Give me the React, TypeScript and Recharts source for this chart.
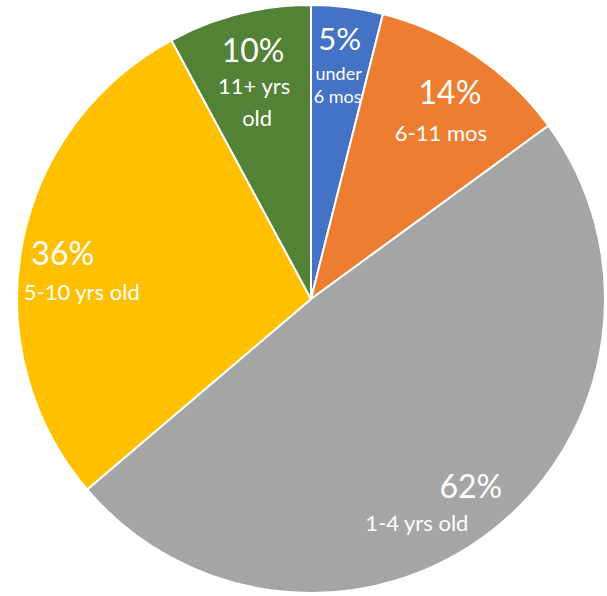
import React from 'react';
import { PieChart, Pie, Cell } from 'recharts';

// age groups, clockwise from 12 o'clock
const groups = ['under 6 mos', '6-11 mos', '1-4 yrs old', '5-10 yrs old', '11+ yrs old'];
const shares = [5, 14, 62, 36, 10];
const pctLabels = ['5%', '14%', '62%', '36%', '10%'];
// how the category text is broken onto lines inside each slice
const subLines = [['under', '6 mos'], ['6-11 mos'], ['1-4 yrs old'], ['5-10 yrs old'], ['11+ yrs', 'old']];

const COLORS = ['#4472C4', '#ED7D31', '#A5A5A5', '#FFC000', '#538135'];

const data = groups.map((name, i) => ({ name, value: shares[i] }));

const RADIAN = Math.PI / 180;

// nudges (x centre, baseline) relative to the anchor on the mid angle, one pair per line
const LAYOUT: { pct: [number, number]; sub: [number, number][]; pctSize: number; subSize: number }[] = [
  { pct: [0, -19], sub: [[-1, 11], [-2, 34]], pctSize: 31, subSize: 18 },
  { pct: [9, -2], sub: [[0, 35]], pctSize: 32, subSize: 22 },
  { pct: [16, 17], sub: [[-38, 50]], pctSize: 32, subSize: 22 },
  { pct: [-20, 9], sub: [[-1, 44]], pctSize: 32, subSize: 22 },
  { pct: [-1, -12], sub: [[0, 20], [3, 52]], pctSize: 32, subSize: 22 },
];

const renderLabel = (props: any) => {
  const { cx, cy, midAngle, outerRadius, index } = props;
  const r = outerRadius * 0.79;
  const x = cx + r * Math.cos(-midAngle * RADIAN);
  const y = cy + r * Math.sin(-midAngle * RADIAN);
  const lay = LAYOUT[index];
  return (
    <g key={`lbl-${index}`} fontFamily="Lato, 'Noto Sans', sans-serif" fill="#ffffff">
      <text x={x + lay.pct[0]} y={y + lay.pct[1]} textAnchor="middle" fontSize={lay.pctSize}>
        {pctLabels[index]}
      </text>
      {subLines[index].map((line, j) => (
        <text
          key={j}
          x={x + lay.sub[j][0]}
          y={y + lay.sub[j][1]}
          textAnchor="middle"
          fontSize={lay.subSize}
        >
          {line}
        </text>
      ))}
    </g>
  );
};

export default function App() {
  return (
    <div style={{ position: 'absolute', left: 0, top: 0, background: '#fff' }}>
      <PieChart width={607} height={596} margin={{ top: 0, right: 0, bottom: 0, left: 0 }}>
        <Pie
          data={data}
          dataKey="value"
          nameKey="name"
          cx={311}
          cy={299}
          outerRadius={294}
          startAngle={90}
          endAngle={-270}
          stroke="#ffffff"
          strokeWidth={2}
          labelLine={false}
          label={renderLabel}
          isAnimationActive={false}
        >
          {data.map((d, i) => (
            <Cell key={d.name} fill={COLORS[i]} />
          ))}
        </Pie>
      </PieChart>
    </div>
  );
}
